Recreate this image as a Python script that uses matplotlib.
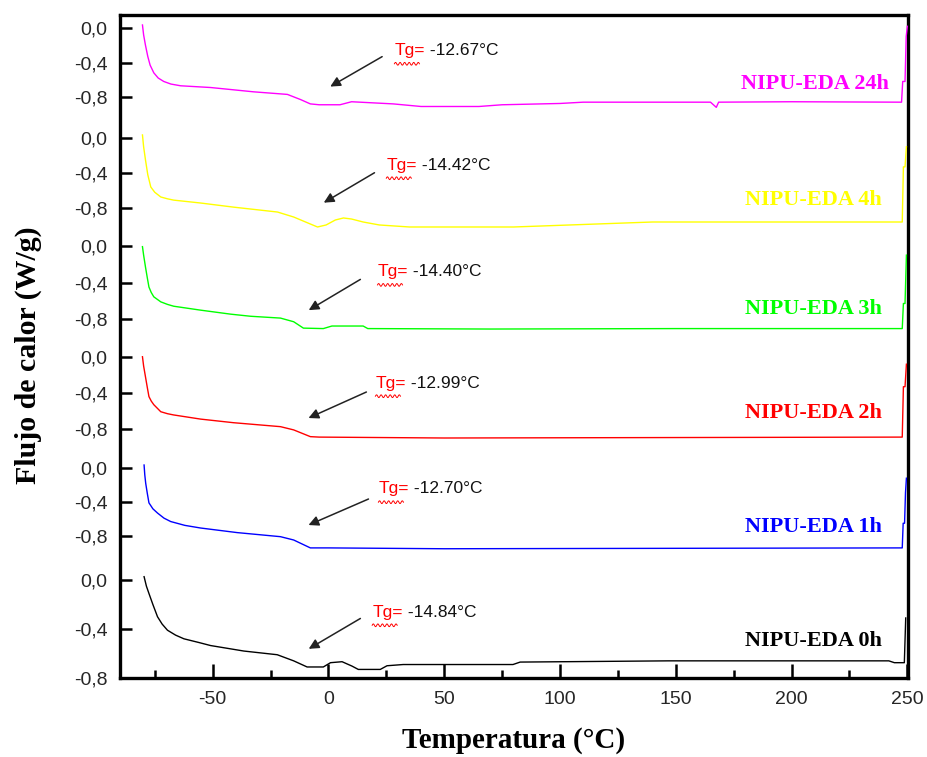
import numpy as np
import matplotlib.pyplot as plt
from matplotlib.transforms import Affine2D, ScaledTranslation

plt.rcParams['font.family'] = ['Liberation Sans', 'DejaVu Sans']
plt.rcParams['axes.unicode_minus'] = False

# DSC heat-flow traces (W/g) vs temperature (°C), one pair per curing time
t_24h = [-80.3, -79.8, -79.0, -78.0, -77.0, -75.4, -73.5, -71.1, -68.0, -63.8, -50.9, -32.3,
         -17.7, -12.0, -7.8, -4.0, 5.0, 10.0, 28.0, 40.0, 65.0, 75.0, 100.0, 110.0, 165.0,
         167.5, 168.5, 200.0, 247.5, 248.0, 249.0, 249.5, 250.0]
q_24h = [0.035, -0.08, -0.20, -0.33, -0.43, -0.52, -0.58, -0.62, -0.65, -0.67, -0.69, -0.74,
         -0.77, -0.83, -0.88, -0.89, -0.89, -0.855, -0.88, -0.91, -0.91, -0.89, -0.875, -0.86,
         -0.86, -0.92, -0.86, -0.855, -0.86, -0.62, -0.62, -0.10, 0.02]

t_4h = [-80.3, -79.8, -79.0, -78.0, -76.7, -75.0, -72.4, -69.5, -66.8, -55.2, -41.0, -22.0,
        -15.0, -7.8, -4.7, -1.0, 3.0, 6.5, 10.0, 15.0, 22.0, 35.0, 80.0, 140.0, 247.8, 248.3,
        249.0, 249.6]
q_4h = [0.035, -0.10, -0.25, -0.42, -0.56, -0.62, -0.674, -0.695, -0.71, -0.743, -0.79, -0.846,
        -0.903, -0.983, -1.017, -0.994, -0.937, -0.914, -0.926, -0.96, -0.994, -1.017, -1.017,
        -0.96, -0.96, -0.33, -0.33, -0.10]

t_3h = [-80.3, -79.8, -79.0, -78.2, -77.5, -76.5, -75.4, -72.4, -69.5, -66.8, -55.2, -42.2,
        -33.6, -20.7, -15.0, -10.8, -2.2, 1.5, 15.0, 17.0, 70.0, 150.0, 247.8, 248.3, 249.0,
        249.6]
q_3h = [-0.007, -0.10, -0.23, -0.35, -0.45, -0.51, -0.557, -0.612, -0.64, -0.66, -0.703, -0.747,
        -0.77, -0.79, -0.83, -0.90, -0.905, -0.877, -0.877, -0.905, -0.91, -0.905, -0.905, -0.63,
        -0.63, -0.10]

t_2h = [-80.3, -79.8, -79.0, -78.2, -77.5, -76.5, -75.4, -72.4, -69.5, -66.8, -55.2, -41.0,
        -20.7, -15.0, -7.8, -4.0, 50.0, 247.8, 248.3, 249.0, 249.6]
q_2h = [0.003, -0.10, -0.22, -0.34, -0.44, -0.49, -0.53, -0.608, -0.63, -0.644, -0.69, -0.73,
        -0.774, -0.81, -0.885, -0.89, -0.90, -0.89, -0.33, -0.33, -0.08]

t_1h = [-79.6, -79.3, -78.9, -78.2, -77.5, -75.8, -73.8, -71.0, -68.1, -62.0, -55.2, -39.4,
        -20.7, -15.0, -7.8, 0.0, 50.0, 247.8, 248.2, 248.8, 249.2, 249.6]
q_1h = [0.035, -0.08, -0.18, -0.30, -0.41, -0.48, -0.53, -0.59, -0.63, -0.675, -0.706, -0.76,
        -0.808, -0.847, -0.94, -0.94, -0.95, -0.94, -0.65, -0.65, -0.29, -0.12]

t_0h = [-79.6, -78.6, -77.5, -75.8, -73.8, -71.8, -69.5, -66.0, -62.4, -56.0, -50.9, -36.5,
        -22.1, -15.0, -9.2, -2.2, 0.9, 5.9, 10.2, 12.9, 22.4, 25.3, 32.3, 79.7, 82.8, 147.0,
        242.0, 244.4, 248.7, 249.3]
q_0h = [0.027, -0.05, -0.11, -0.20, -0.30, -0.36, -0.41, -0.45, -0.48, -0.51, -0.535, -0.58,
        -0.61, -0.66, -0.71, -0.71, -0.675, -0.667, -0.703, -0.73, -0.73, -0.70, -0.69, -0.69,
        -0.67, -0.66, -0.66, -0.675, -0.675, -0.31]

samples = ['NIPU-EDA 24h', 'NIPU-EDA 4h', 'NIPU-EDA 3h', 'NIPU-EDA 2h', 'NIPU-EDA 1h', 'NIPU-EDA 0h']
temps = [t_24h, t_4h, t_3h, t_2h, t_1h, t_0h]
flows = [q_24h, q_4h, q_3h, q_2h, q_1h, q_0h]
colors = ['#ff00ff', '#ffff00', '#00ff00', '#ff0000', '#0000ff', '#000000']
tg_values = ['-12.67', '-14.42', '-14.40', '-12.99', '-12.70', '-14.84']

y_ticks = [0.0, -0.4, -0.8]
y_ticklabels = ['0,0', '-0,4', '-0,8']
x_major = [-50, 0, 50, 100, 150, 200, 250]
x_minor = [-75, -25, 25, 75, 125, 175, 225]

# layer rows in pixels: (row of 0,0 tick, row of -0,8 tick)
rows = [(28, 97), (138, 208), (246, 319), (357, 429), (468, 536), (580, 678)]
# annotation placement per layer: arrow tail, arrow head, Tg text anchor, sample label
arrow_tail = [(23.2, -0.332), (19.9, -0.397), (13.8, -0.366), (16.4, -0.389), (17.3, -0.365), (13.8, -0.314)]
arrow_head = [(0.8, -0.679), (-2.0, -0.739), (-8.5, -0.703), (-8.6, -0.678), (-8.6, -0.671), (-8.5, -0.562)]
tg_pos = [(28.5, -0.262), (25.0, -0.309), (21.2, -0.282), (20.3, -0.289), (21.6, -0.247), (18.9, -0.262)]
label_pos = [(242.2, -0.647), (238.8, -0.709), (238.8, -0.685), (238.8, -0.622), (238.8, -0.69), (238.8, -0.496)]

W, H = 928, 757
fig = plt.figure(figsize=(W / 100, H / 100), dpi=100)
left, right, top, bottom = 120, 908.5, 15, 678
xlim = (-90, 250.5)

# outer frame carrying the temperature axis
host = fig.add_axes([left / W, 1 - bottom / H, (right - left) / W, (bottom - top) / H])
host.set_xlim(*xlim)
host.set_ylim(0, 1)
host.set_yticks([])
host.set_xticks(x_major)
host.set_xticks(x_minor, minor=True)
host.tick_params(axis='x', which='major', direction='in', length=10, width=1.8, pad=9,
                 labelsize=14, labelcolor='#262626', top=False)
host.tick_params(axis='x', which='minor', direction='in', length=6, width=1.8, top=False)
for sp in host.spines.values():
    sp.set_linewidth(2.4)

wave_x = np.linspace(0, 18, 60)
wave_y = -9.5 + 1.0 * np.sin(wave_x / 18 * 2 * np.pi * 5.5)

for i in range(len(samples)):
    r0, r8 = rows[i]
    ax = fig.add_axes([left / W, 1 - r8 / H, (right - left) / W, (r8 - r0) / H])
    ax.set_xlim(*xlim)
    ax.set_ylim(-0.8, 0.0)
    ax.patch.set_visible(False)
    for sp in ax.spines.values():
        sp.set_visible(False)
    ax.set_xticks([])
    ax.set_yticks(y_ticks)
    ax.set_yticklabels(y_ticklabels)
    ax.tick_params(axis='y', direction='in', length=8.5, width=1.8, pad=9,
                   labelsize=14, labelcolor='#262626')

    ax.plot(temps[i], flows[i], color=colors[i], lw=1.0, clip_on=False)

    # Tg arrow and label
    ax.annotate('', xy=arrow_head[i], xytext=arrow_tail[i],
                arrowprops=dict(arrowstyle='-|>', color='#222222', lw=1.1,
                                mutation_scale=15, shrinkA=0, shrinkB=0))
    tx, ty = tg_pos[i]
    t1 = ax.text(tx, ty, 'Tg=', color='red', fontsize=12.5, ha='left', va='center')
    ax.annotate(' ' + tg_values[i] + '°C', xy=(1, 0.5), xycoords=t1, fontsize=12.5,
                ha='left', va='center', color='#111111')
    tr = Affine2D().scale(fig.dpi / 72) + ScaledTranslation(tx, ty, ax.transData)
    ax.plot(wave_x, wave_y, color='red', lw=0.7, transform=tr, clip_on=False)

    lx, ly = label_pos[i]
    ax.text(lx, ly, samples[i], color=colors[i], fontsize=16, fontweight='bold',
            family='Liberation Serif', ha='right', va='center')

fig.text(28 / W, 1 - 355 / H, 'Flujo de calor (W/g)', rotation=90, ha='center', va='center',
         fontsize=21.5, fontweight='bold', family='Liberation Serif')
fig.text(514 / W, 1 - 741 / H, 'Temperatura (°C)', ha='center', va='center',
         fontsize=21, fontweight='bold', family='Liberation Serif')

fig.savefig('out.png', dpi=100)
